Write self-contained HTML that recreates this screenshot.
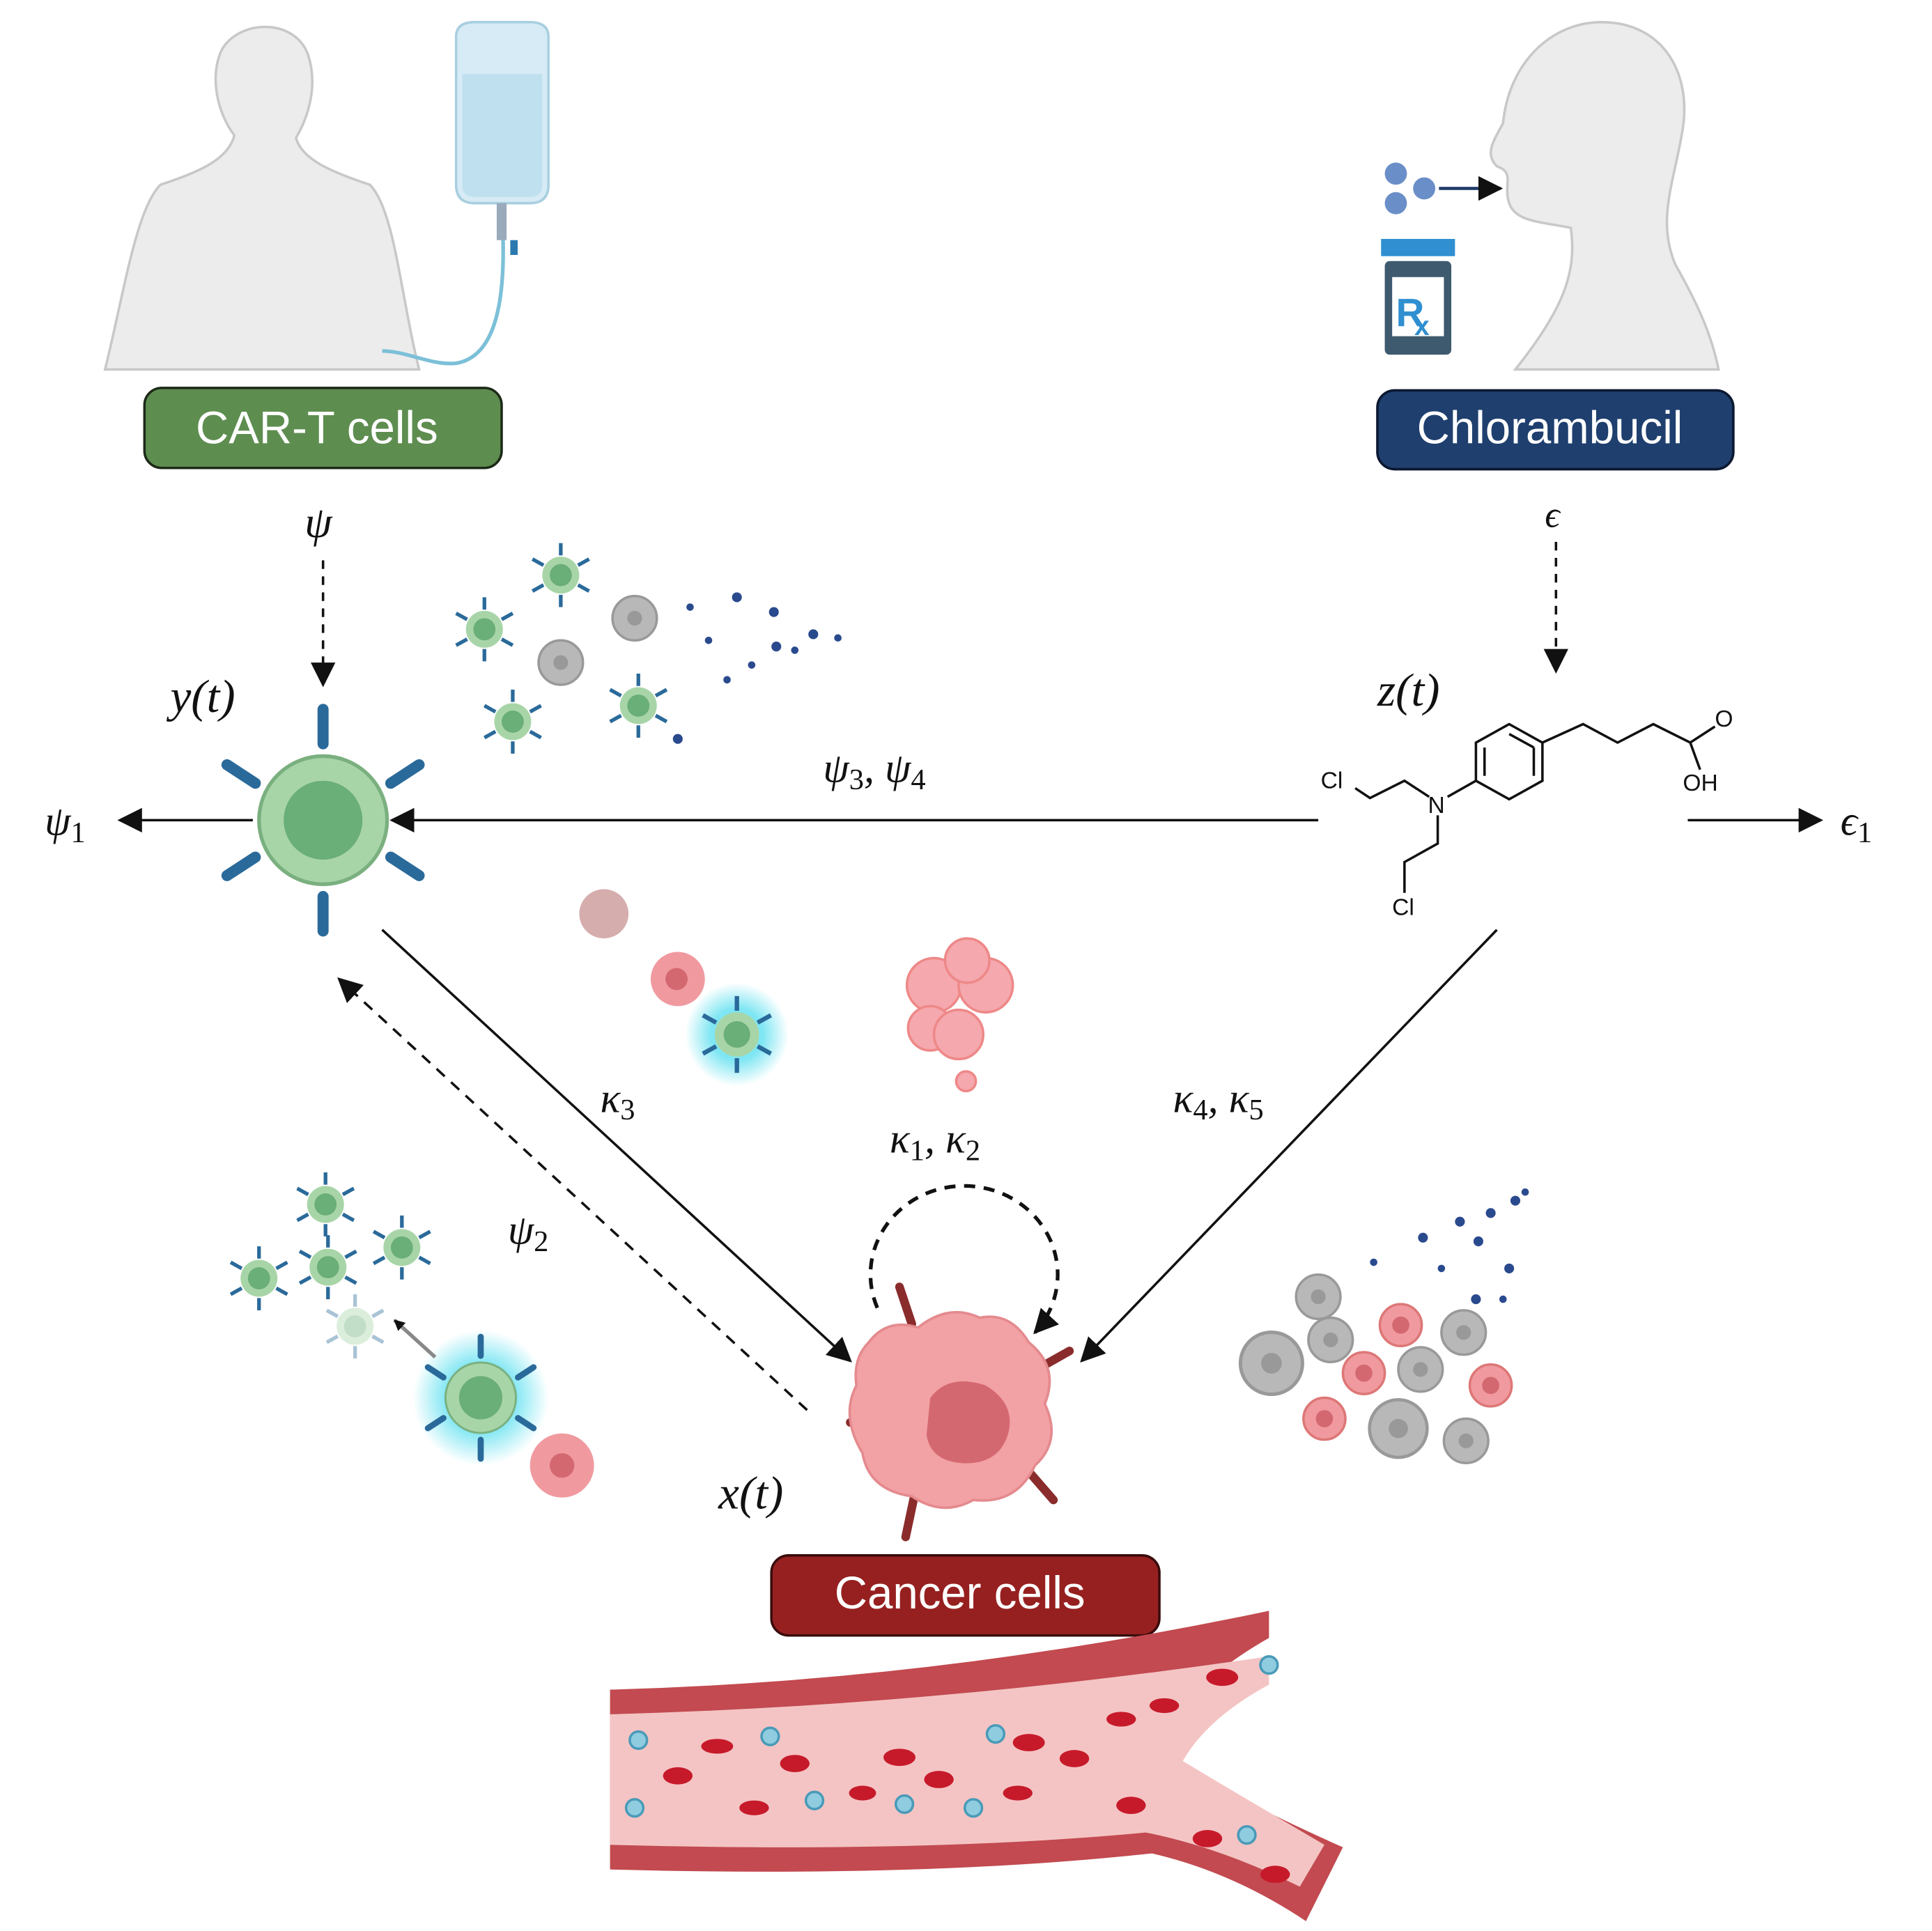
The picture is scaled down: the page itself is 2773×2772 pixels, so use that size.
<!DOCTYPE html>
<html><head><meta charset="utf-8"><style>
html,body{margin:0;padding:0;background:#fff}
svg{display:block}
text{font-family:"Liberation Serif",serif;font-style:italic;fill:#111}
.b{font-family:"Liberation Sans",sans-serif;font-style:normal;fill:#fff;font-size:37px}
.s{font-family:"Liberation Sans",sans-serif;font-style:normal;font-size:19px;fill:#111}
</style></head><body>
<svg width="2773" height="2772" viewBox="0 0 1568 1568" xmlns="http://www.w3.org/2000/svg">
<defs>
<marker id="ar" viewBox="0 0 10 10" refX="9" refY="5" markerWidth="9" markerHeight="9" markerUnits="userSpaceOnUse" orient="auto"><path d="M0,0L10,5L0,10z" fill="#111"/></marker>
<marker id="ar2" viewBox="0 0 10 10" refX="9" refY="5" markerWidth="20" markerHeight="20" markerUnits="userSpaceOnUse" orient="auto"><path d="M0,0L10,5L0,10z" fill="#111"/></marker>
<radialGradient id="glow"><stop offset="0.5" stop-color="#5fe0f0" stop-opacity="0.8"/><stop offset="1" stop-color="#5fe0f0" stop-opacity="0"/></radialGradient>
<g id="tc"><g stroke="#2a6a9a" stroke-width="9" stroke-linecap="round"><path d="M0,-62V-90M0,62V90M-55,-30L-78,-45M55,-30L78,-45M-55,30L-78,45M55,30L78,45"/></g><circle r="52" fill="#a8d5a8" stroke="#7ab07f" stroke-width="3"/><circle r="32" fill="#6aae78"/></g>
<g id="mt"><g stroke="#2a6a9a" stroke-width="3"><path d="M0,-16V-26M0,16V26M-14,-8L-23,-13M14,-8L23,-13M-14,8L-23,13M14,8L23,13"/></g><circle r="15" fill="#a8d5a8"/><circle r="9" fill="#6aae78"/></g>
<g id="gc"><circle r="18" fill="#b8b8b8" stroke="#999" stroke-width="2"/><circle r="6" fill="#999"/></g>
<g id="pc"><circle r="17" fill="#f09aa0" stroke="#d77" stroke-width="2"/><circle r="7" fill="#d46870"/></g>
</defs>
<path d="M85,300 C100,240 110,170 130,150 C160,140 185,130 190,110 C175,90 170,60 180,40 C195,15 240,15 250,45 C258,70 250,95 240,112 C245,130 270,140 300,150 C320,170 325,240 340,300Z" fill="#ececec" stroke="#c8c8c8" stroke-width="2"/>
<path d="M370,30 Q370,18 385,18 H430 Q445,18 445,30 V150 Q445,165 430,165 H385 Q370,165 370,150Z" fill="#d6ebf5" stroke="#a8cfe0" stroke-width="2"/>
<path d="M375,60 H440 V150 Q440,160 430,160 H385 Q375,160 375,150Z" fill="#bfe0ee"/>
<path d="M408,190 C410,250 400,290 370,295 C350,297 330,285 310,285" fill="none" stroke="#7cc0d8" stroke-width="3"/>
<rect x="403" y="165" width="8" height="30" fill="#9ab"/><rect x="414" y="195" width="6" height="12" fill="#2a7ab0"/>
<path d="M1230,300 C1270,250 1280,220 1275,185 C1250,180 1230,180 1225,165 C1220,150 1230,140 1215,135 C1205,125 1212,115 1220,100 C1225,50 1260,18 1300,18 C1350,18 1375,60 1365,110 C1358,150 1345,180 1360,215 C1380,250 1390,275 1395,300Z" fill="#ececec" stroke="#c8c8c8" stroke-width="2"/>
<circle cx="1133" cy="141" r="9" fill="#6a8ec8"/><circle cx="1133" cy="165" r="9" fill="#6a8ec8"/><circle cx="1156" cy="153" r="9" fill="#6a8ec8"/>
<line x1="1168" y1="153" x2="1218" y2="153" stroke="#1f3a66" stroke-width="2.5" marker-end="url(#ar2)"/>
<rect x="1121" y="194" width="60" height="14" fill="#2f8fd0"/>
<rect x="1124" y="212" width="54" height="76" rx="4" fill="#3e5a6e"/>
<rect x="1130" y="225" width="42" height="48" fill="#fff"/>
<text x="1133" y="265" style="font-family:'Liberation Sans',sans-serif;font-style:normal;font-weight:bold;font-size:32px;fill:#2f8fd0">R</text>
<text x="1148" y="272" style="font-family:'Liberation Sans',sans-serif;font-style:normal;font-weight:bold;font-size:22px;fill:#2f8fd0">x</text>
<rect x="117" y="315" width="290" height="65" rx="14" fill="#5e8d50" stroke="#1d2a18" stroke-width="2"/>
<text class="b" x="257" y="360" text-anchor="middle">CAR-T cells</text>
<rect x="1118" y="317" width="289" height="64" rx="14" fill="#1f3f6e" stroke="#0b1830" stroke-width="2"/>
<text class="b" x="1258" y="360" text-anchor="middle">Chlorambucil</text>
<rect x="626" y="1263" width="315" height="65" rx="14" fill="#962020" stroke="#3a0c0c" stroke-width="2"/>
<text class="b" x="779" y="1306" text-anchor="middle">Cancer cells</text>
<g stroke="#111" stroke-width="2" fill="none">
<line x1="262" y1="455" x2="262" y2="556" stroke-dasharray="7,6" marker-end="url(#ar2)"/>
<line x1="1263" y1="440" x2="1263" y2="545" stroke-dasharray="7,6" marker-end="url(#ar2)"/>
<line x1="1070" y1="666" x2="318" y2="666" marker-end="url(#ar2)"/>
<line x1="205" y1="666" x2="97" y2="666" marker-end="url(#ar2)"/>
<line x1="1370" y1="666" x2="1478" y2="666" marker-end="url(#ar2)"/>
<line x1="310" y1="755" x2="690" y2="1105" marker-end="url(#ar2)"/>
<line x1="655" y1="1145" x2="275" y2="795" stroke-dasharray="9,7" marker-end="url(#ar2)"/>
<line x1="1215" y1="755" x2="878" y2="1105" marker-end="url(#ar2)"/>
<path d="M712,1062 A76,72 0 1 1 840,1082" stroke-width="3" stroke-dasharray="9,7" marker-end="url(#ar2)"/>
</g>
<text x="247" y="436" font-size="36">ψ</text>
<text x="1254" y="428" font-size="30">ϵ</text>
<text x="138" y="578" font-size="38">y(t)</text>
<text x="1118" y="573" font-size="38">z(t)</text>
<text x="36" y="678" font-size="34">ψ<tspan font-size="24" dy="6" font-style="normal">1</tspan></text>
<text x="1494" y="678" font-size="34">ϵ<tspan font-size="24" dy="6" font-style="normal">1</tspan></text>
<text x="668" y="635" font-size="34">ψ<tspan font-size="24" dy="6" font-style="normal">3</tspan><tspan dy="-6">, ψ</tspan><tspan font-size="24" dy="6" font-style="normal">4</tspan></text>
<text x="487" y="903" font-size="34">κ<tspan font-size="24" dy="6" font-style="normal">3</tspan></text>
<text x="722" y="936" font-size="34">κ<tspan font-size="24" dy="6" font-style="normal">1</tspan><tspan dy="-6">, κ</tspan><tspan font-size="24" dy="6" font-style="normal">2</tspan></text>
<text x="952" y="903" font-size="34">κ<tspan font-size="24" dy="6" font-style="normal">4</tspan><tspan dy="-6">, κ</tspan><tspan font-size="24" dy="6" font-style="normal">5</tspan></text>
<text x="412" y="1010" font-size="34">ψ<tspan font-size="24" dy="6" font-style="normal">2</tspan></text>
<text x="583" y="1225" font-size="38">x(t)</text>
<g stroke="#111" stroke-width="2" fill="none">
<polygon points="1225,588 1252,603 1252,634 1225,649 1198,634 1198,603"/>
<path d="M1205,607V630M1245,607V630M1225,596L1245,607"/>
<path d="M1252,603L1285,588L1313,603L1342,588L1372,603L1392,590M1372,603L1380,625"/>
<path d="M1198,634L1175,647M1160,647L1140,634L1112,648L1100,640M1167,662V685L1140,700V725"/>
</g>
<text class="s" x="1159" y="660">N</text><text class="s" x="1072" y="640">Cl</text><text class="s" x="1130" y="743">Cl</text>
<text class="s" x="1392" y="590">O</text><text class="s" x="1366" y="642">OH</text>
<use href="#tc" x="262" y="666"/>
<use href="#mt" x="455" y="467"/><use href="#mt" x="393" y="511"/><use href="#mt" x="416" y="586"/><use href="#mt" x="518" y="573"/>
<use href="#gc" x="455" y="538"/><use href="#gc" x="515" y="502"/>
<g fill="#2a4a8e"><circle cx="560" cy="493" r="3"/><circle cx="598" cy="485" r="4"/><circle cx="628" cy="497" r="4"/><circle cx="660" cy="515" r="4"/><circle cx="630" cy="525" r="4"/><circle cx="590" cy="552" r="3"/><circle cx="610" cy="540" r="3"/><circle cx="575" cy="520" r="3"/><circle cx="680" cy="518" r="3"/><circle cx="550" cy="600" r="4"/><circle cx="645" cy="528" r="3"/></g>
<circle cx="598" cy="840" r="42" fill="url(#glow)"/>
<g transform="translate(598,840) scale(1.2)"><use href="#mt"/></g>
<circle cx="550" cy="795" r="22" fill="#f09aa0"/><circle cx="549" cy="795" r="9" fill="#d46870"/>
<circle cx="490" cy="742" r="20" fill="#c99" opacity="0.8"/>
<g fill="#f5a8ad" stroke="#e88" stroke-width="2"><circle cx="758" cy="800" r="22"/><circle cx="800" cy="800" r="22"/><circle cx="785" cy="780" r="18"/><circle cx="755" cy="835" r="18"/><circle cx="778" cy="840" r="20"/><circle cx="784" cy="878" r="8"/></g>
<use href="#mt" x="264" y="978"/><use href="#mt" x="326" y="1013"/><use href="#mt" x="266" y="1029"/><use href="#mt" x="210" y="1038"/><g opacity="0.4"><use href="#mt" x="288" y="1077"/></g>
<circle cx="390" cy="1135" r="55" fill="url(#glow)"/>
<g transform="translate(390,1135) scale(0.55)"><use href="#tc"/></g>
<circle cx="456" cy="1190" r="26" fill="#f09aa0"/><circle cx="456" cy="1190" r="10" fill="#d46870"/>
<line x1="353" y1="1102" x2="320" y2="1072" stroke="#888" stroke-width="3" marker-end="url(#ar)"/>
<g stroke="#8a2c2c" stroke-width="7" stroke-linecap="round"><path d="M730,1045L740,1075M690,1155L715,1155M742,1215L735,1248M835,1195L855,1218M845,1110L868,1097"/></g>
<path d="M705,1090 Q720,1070 745,1078 Q770,1058 795,1070 Q820,1065 835,1090 Q860,1110 848,1140 Q862,1170 840,1190 Q825,1222 790,1218 Q765,1232 740,1215 Q705,1210 700,1180 Q682,1150 695,1125 Q692,1103 705,1090Z" fill="#f2a1a4" stroke="#e48a8e" stroke-width="2"/>
<path d="M755,1135 Q770,1115 800,1125 Q825,1140 818,1165 Q810,1190 780,1188 Q755,1186 752,1165Z" fill="#d46870"/>
<use href="#gc" x="1032" y="1107" transform="translate(1032,1107) scale(1.4) translate(-1032,-1107)"/>
<use href="#gc" x="1135" y="1160" transform="translate(1135,1160) scale(1.3) translate(-1135,-1160)"/>
<use href="#gc" x="1070" y="1053"/><use href="#gc" x="1153" y="1112"/><use href="#gc" x="1080" y="1088"/><use href="#gc" x="1190" y="1170"/><use href="#gc" x="1188" y="1082"/>
<use href="#pc" x="1137" y="1076"/><use href="#pc" x="1107" y="1115"/><use href="#pc" x="1075" y="1152"/><use href="#pc" x="1210" y="1125"/>
<g fill="#2a4a8e"><circle cx="1155" cy="1005" r="4"/><circle cx="1185" cy="992" r="4"/><circle cx="1210" cy="985" r="4"/><circle cx="1230" cy="975" r="4"/><circle cx="1200" cy="1008" r="4"/><circle cx="1225" cy="1030" r="4"/><circle cx="1198" cy="1055" r="4"/><circle cx="1170" cy="1030" r="3"/><circle cx="1220" cy="1055" r="3"/><circle cx="1238" cy="968" r="3"/><circle cx="1115" cy="1025" r="3"/></g>
<path d="M495,1372 Q760,1365 1030,1308 V1330 Q960,1370 935,1420 Q1000,1460 1090,1500 L1060,1560 Q1000,1520 935,1505 Q750,1525 495,1518Z" fill="#c24a50"/>
<path d="M495,1392 Q760,1385 1030,1345 V1368 Q980,1395 960,1430 Q1010,1460 1075,1498 L1055,1532 Q990,1500 930,1488 Q750,1505 495,1498Z" fill="#f4c4c4"/>
<g fill="#c61a2a"><ellipse cx="582" cy="1418" rx="13" ry="6"/><ellipse cx="550" cy="1442" rx="12" ry="7"/><ellipse cx="645" cy="1432" rx="12" ry="7"/><ellipse cx="730" cy="1427" rx="13" ry="7"/><ellipse cx="762" cy="1445" rx="12" ry="7"/><ellipse cx="700" cy="1456" rx="11" ry="6"/><ellipse cx="612" cy="1468" rx="12" ry="6"/><ellipse cx="835" cy="1415" rx="13" ry="7"/><ellipse cx="872" cy="1428" rx="12" ry="7"/><ellipse cx="910" cy="1396" rx="12" ry="6"/><ellipse cx="945" cy="1385" rx="12" ry="6"/><ellipse cx="992" cy="1362" rx="13" ry="7"/><ellipse cx="826" cy="1456" rx="12" ry="6"/><ellipse cx="918" cy="1466" rx="12" ry="7"/><ellipse cx="980" cy="1493" rx="12" ry="7"/><ellipse cx="1035" cy="1522" rx="12" ry="7"/></g>
<g fill="#8fcce0" stroke="#4a9ab8" stroke-width="2"><circle cx="518" cy="1413" r="7"/><circle cx="625" cy="1410" r="7"/><circle cx="515" cy="1468" r="7"/><circle cx="661" cy="1462" r="7"/><circle cx="734" cy="1465" r="7"/><circle cx="790" cy="1468" r="7"/><circle cx="808" cy="1408" r="7"/><circle cx="1030" cy="1352" r="7"/><circle cx="1012" cy="1490" r="7"/></g>
</svg>
</body></html>
